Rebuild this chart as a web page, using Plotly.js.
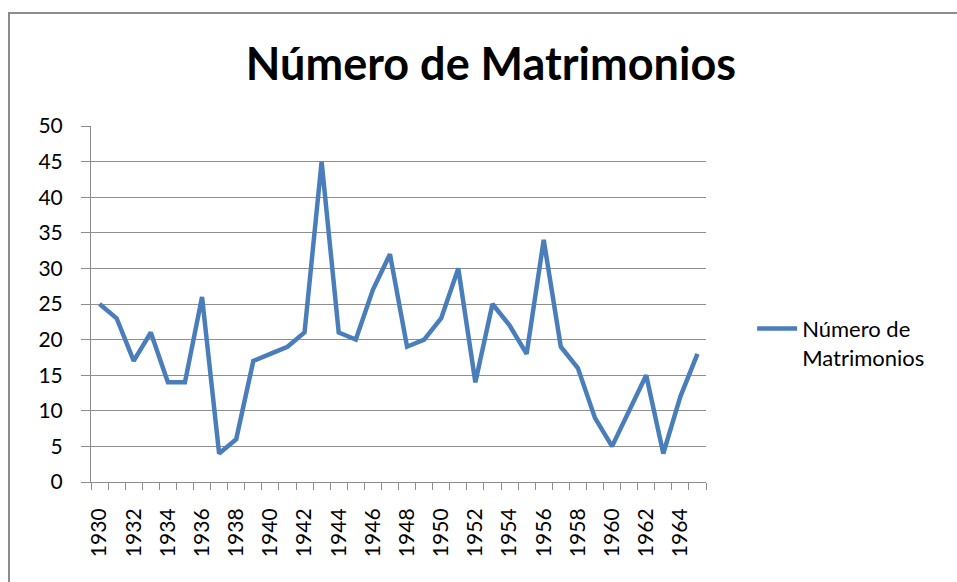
<!DOCTYPE html>
<html>
<head>
<meta charset="utf-8">
<script src="https://cdn.plot.ly/plotly-3.0.1.min.js"></script>
<style>
  body { margin: 0; background: #fff; }
  #chart { width: 957px; height: 582px; }
  #frame {
    position: absolute; left: 8px; top: 12px; width: 1000px; height: 700px;
    border-left: 2px solid #8c8c8c; border-top: 2px solid #8c8c8c;
    pointer-events: none;
  }
</style>
</head>
<body>
<div id="chart"></div>
<div id="frame"></div>
<script>
// years and number of marriages
var years = ['1930', '1931', '1932', '1933', '1934', '1935', '1936', '1937', '1938', '1939',
             '1940', '1941', '1942', '1943', '1944', '1945', '1946', '1947', '1948', '1949',
             '1950', '1951', '1952', '1953', '1954', '1955', '1956', '1957', '1958', '1959',
             '1960', '1961', '1962', '1963', '1964', '1965'];
var matrimonios = [25, 23, 17, 21, 14, 14, 26, 4, 6, 17,
                   18, 19, 21, 45, 21, 20, 27, 32, 19, 20,
                   23, 30, 14, 25, 22, 18, 34, 19, 16, 9,
                   5, 10, 15, 4, 12, 18];
var yTicks = [0, 5, 10, 15, 20, 25, 30, 35, 40, 45, 50];

// only every second year gets a label
var xLabels = [];
for (i = 0; i < years.length; i++) {
  xLabels.push(i % 2 == 0 ? years[i] : '');
}

var trace = {
  x: years,
  y: matrimonios,
  name: 'Número de<br>Matrimonios',
  mode: 'lines',
  type: 'scatter',
  line: { color: '#4a7ebb', width: 4.5 },
  hoverinfo: 'x+y'
};

var layout = {
  width: 957,
  height: 582,
  margin: { l: 91, r: 251, t: 126, b: 100 },
  paper_bgcolor: 'white',
  plot_bgcolor: 'white',
  font: { family: 'Lato, "Open Sans", sans-serif', size: 21, color: '#000' },
  title: {
    text: '<b>Número de Matrimonios</b>',
    font: { family: 'Lato, "Open Sans", sans-serif', size: 45, color: '#000' },
    x: 0.513, xanchor: 'center',
    y: 0.89, yanchor: 'middle'
  },
  xaxis: {
    type: 'category',
    tickvals: years,
    ticktext: xLabels,
    tickson: 'boundaries',
    ticks: 'outside',
    ticklen: 7,
    tickcolor: '#8c8c8c',
    tickangle: -90,
    showgrid: false,
    showline: true,
    linecolor: '#8c8c8c',
    linewidth: 1,
    range: [-0.5, 35.5],
    ticklabelstandoff: 17,
    fixedrange: true
  },
  yaxis: {
    range: [0, 50],
    tickvals: yTicks,
    ticks: 'outside',
    ticklen: 9,
    tickcolor: '#8c8c8c',
    showgrid: true,
    gridcolor: '#8f8f8f',
    gridwidth: 1,
    zeroline: false,
    showline: true,
    linecolor: '#8c8c8c',
    linewidth: 1,
    ticklabelstandoff: 14,
    fixedrange: true
  },
  showlegend: true,
  legend: {
    x: 1.075, xanchor: 'left',
    y: 0.39, yanchor: 'middle',
    valign: 'top',
    font: { size: 22 },
    itemwidth: 40,
    bgcolor: 'rgba(0,0,0,0)'
  }
};

Plotly.newPlot('chart', [trace], layout, { displayModeBar: false });
</script>
</body>
</html>
